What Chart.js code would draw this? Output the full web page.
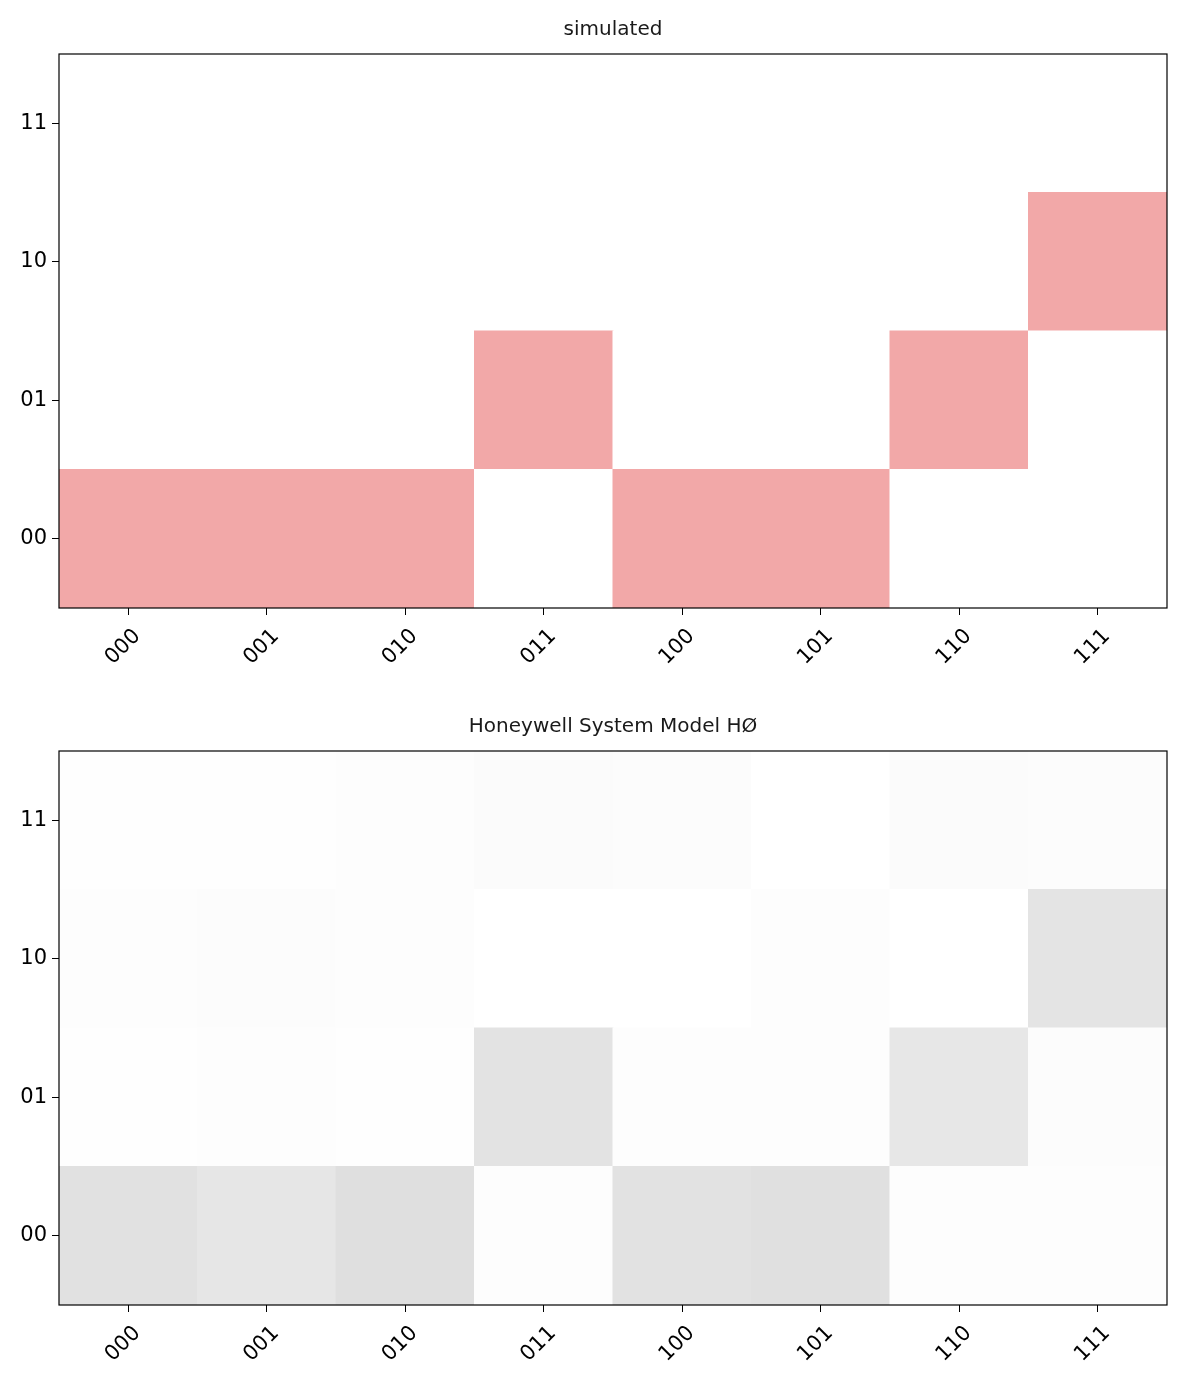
<!DOCTYPE html>
<html>
<head>
<meta charset="utf-8">
<script src="https://cdn.jsdelivr.net/npm/chart.js@4"></script>
<style>
  body { margin: 0; background: #fff; }
  .box { position: relative; width: 1200px; height: 697px; }
</style>
</head>
<body>
<div class="box"><canvas id="simChart"></canvas></div>
<div class="box"><canvas id="hwChart"></canvas></div>
<script>
const colLabels = ['000', '001', '010', '011', '100', '101', '110', '111'];
const rowLabels = ['00', '01', '10', '11'];

// simulated result: 1 = hit, 0 = empty (rows 00..11)
const simRow00 = [1, 1, 1, 0, 1, 1, 0, 0];
const simRow01 = [0, 0, 0, 1, 0, 0, 1, 0];
const simRow10 = [0, 0, 0, 0, 0, 0, 0, 1];
const simRow11 = [0, 0, 0, 0, 0, 0, 0, 0];

// Honeywell H0 measured probabilities (estimated from shading)
const hwRow00 = [0.88, 0.74, 0.94, 0.06, 0.85, 0.90, 0.05, 0.05];
const hwRow01 = [0.02, 0.05, 0.03, 0.82, 0.05, 0.05, 0.70, 0.10];
const hwRow10 = [0.05, 0.08, 0.07, 0.00, 0.00, 0.05, 0.00, 0.80];
const hwRow11 = [0.03, 0.04, 0.05, 0.12, 0.10, 0.00, 0.13, 0.08];

const simRows = [simRow00, simRow01, simRow10, simRow11];
const hwRows = [hwRow00, hwRow01, hwRow10, hwRow11];

const FONT = 'DejaVu Sans';

// axes frame + title centred over the plot area
const frame = {
  id: 'frame',
  afterLayout(chart) {
    if (chart.titleBlock) {
      chart.titleBlock.left = chart.chartArea.left;
      chart.titleBlock.right = chart.chartArea.right;
    }
  },
  afterDraw(chart) {
    const a = chart.chartArea, c = chart.ctx;
    c.save();
    c.strokeStyle = '#000';
    c.lineWidth = 1.2;
    c.strokeRect(a.left, a.top, a.right - a.left, a.bottom - a.top);
    c.restore();
  }
};

function makeHeat(el, title, rows, colorFn) {
  const datasets = rows.map((vals, r) => ({
    data: vals.map(() => [r - 0.5, r + 0.5]),
    backgroundColor: vals.map(colorFn),
    borderWidth: 0,
    inflateAmount: 0.5,
    barPercentage: 1,
    categoryPercentage: 1
  }));
  new Chart(document.getElementById(el), {
    type: 'bar',
    data: { labels: colLabels, datasets: datasets },
    options: {
      responsive: true,
      maintainAspectRatio: false,
      animation: false,
      layout: { padding: { left: 0, right: 33, top: 0, bottom: 0 } },
      plugins: {
        legend: { display: false },
        tooltip: { enabled: false },
        title: {
          display: true,
          text: title,
          color: '#1a1a1a',
          font: { family: FONT, size: 20, weight: 'normal' },
          padding: { top: 18, bottom: 12 }
        }
      },
      scales: {
        x: {
          stacked: true,
          offset: true,
          grid: { offset: false, drawOnChartArea: false, drawTicks: true, tickLength: 7, color: '#000' },
          border: { display: false },
          ticks: {
            color: '#000',
            font: { family: FONT, size: 21 },
            minRotation: 45,
            maxRotation: 45,
            padding: 9,
            labelOffset: 9
          },
          afterFit(s) { s.height = 89; }
        },
        y: {
          stacked: false,
          min: -0.5,
          max: 3.5,
          grid: { drawOnChartArea: false, drawTicks: true, tickLength: 7, color: '#000' },
          border: { display: false },
          afterBuildTicks(s) { s.ticks = rowLabels.map((_, i) => ({ value: i })); },
          ticks: {
            color: '#000',
            font: { family: FONT, size: 21 },
            padding: 5,
            callback: v => rowLabels[v]
          },
          afterFit(s) { s.width = 59; }
        }
      }
    },
    plugins: [frame]
  });
}

function grayOf(v) {
  const g = Math.round(255 - v * 34);
  return 'rgb(' + g + ',' + g + ',' + g + ')';
}

makeHeat('simChart', 'simulated', simRows, v => v ? '#f2a8a8' : '#ffffff');
makeHeat('hwChart', 'Honeywell System Model HØ', hwRows, grayOf);
</script>
</body>
</html>
